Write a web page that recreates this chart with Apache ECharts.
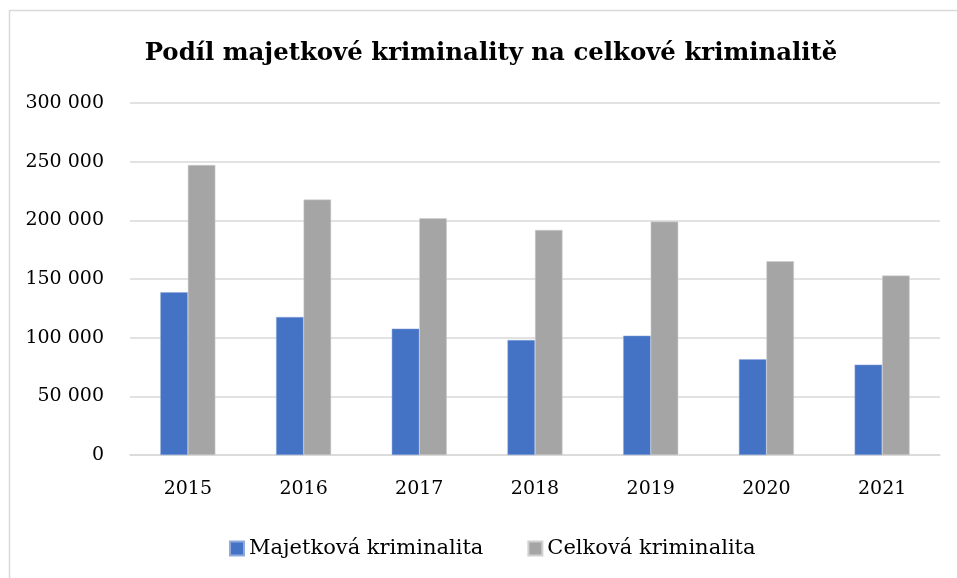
<!DOCTYPE html>
<html lang="cs">
<head>
    <meta charset="UTF-8">
    <title>Podíl majetkové kriminality</title>
    <script src="https://cdn.jsdelivr.net/npm/echarts@6/dist/echarts.min.js"></script>
    <style>
        html, body { margin: 0; padding: 0; background: #fff; }
        #chart { width: 957px; height: 578px; }
    </style>
</head>
<body>
<div id="chart"></div>
<script type="text/javascript">
    var years = ['2015', '2016', '2017', '2018', '2019', '2020', '2021'];
    var majetkova = [138700, 117600, 107700, 98000, 101700, 81600, 77000];
    var celkova = [247200, 217700, 201800, 191800, 198900, 165100, 152900];
    var seriesNames = ['Majetková kriminalita', 'Celková kriminalita'];

    var fontSerif = '"DejaVu Serif", "Liberation Serif", serif';

    function fmt(v) {
        // mezera jako oddělovač tisíců
        return String(v).replace(/\B(?=(\d{3})+(?!\d))/g, ' ');
    }

    var chart = echarts.init(document.getElementById('chart'));
    var option = {
        backgroundColor: '#fff',
        animation: false,
        title: {
            text: 'Podíl majetkové kriminality na celkové kriminalitě',
            left: 486,
            textAlign: 'center',
            top: 37,
            textStyle: {
                fontFamily: fontSerif,
                fontWeight: 'bold',
                fontSize: 24.4,
                color: '#000'
            }
        },
        legend: {
            data: seriesNames,
            left: 224,
            top: 533,
            itemWidth: 14,
            itemHeight: 14,
            itemGap: 44,
            icon: 'rect',
            textStyle: {
                fontFamily: fontSerif,
                fontSize: 21,
                color: '#000'
            }
        },
        grid: {
            left: 130,
            right: 17,
            top: 103,
            bottom: 123,
            containLabel: false
        },
        xAxis: {
            type: 'category',
            data: years,
            axisTick: { show: false },
            axisLine: { lineStyle: { color: '#d9d9d9', width: 1.5 } },
            axisLabel: {
                margin: 25,
                fontFamily: fontSerif,
                fontSize: 19,
                color: '#000'
            }
        },
        yAxis: {
            type: 'value',
            min: 0,
            max: 300000,
            interval: 50000,
            axisLine: { show: false },
            axisTick: { show: false },
            splitLine: { lineStyle: { color: '#d9d9d9', width: 1.5 } },
            axisLabel: {
                margin: 26,
                fontFamily: fontSerif,
                fontSize: 19,
                color: '#000',
                formatter: fmt
            }
        },
        graphic: [{
            type: 'rect',
            shape: { x: 9.5, y: 10.5, width: 960, height: 600 },
            style: { fill: 'none', stroke: '#d9d9d9', lineWidth: 1.5 },
            silent: true,
            z: -1
        }],
        series: [
            {
                name: seriesNames[0],
                type: 'bar',
                data: majetkova,
                barWidth: 27.5,
                barGap: '0%',
                itemStyle: { color: '#4472C4', borderColor: '#8fa9dc', borderWidth: 0.5 }
            },
            {
                name: seriesNames[1],
                type: 'bar',
                data: celkova,
                barWidth: 27.5,
                itemStyle: { color: '#A5A5A5', borderColor: '#d0d0d0', borderWidth: 0.5 }
            }
        ]
    };
    chart.setOption(option);
</script>
</body>
</html>
